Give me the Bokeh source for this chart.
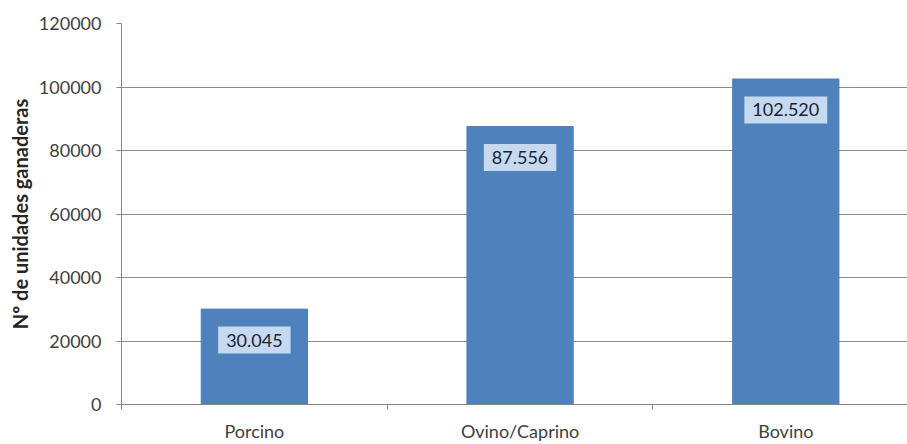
from bokeh.plotting import figure
from bokeh.models import FixedTicker, Range1d, Label
from bokeh.embed import file_html
from bokeh.resources import INLINE

categories = ["Porcino", "Ovino/Caprino", "Bovino"]
values = [30045, 87556, 102520]
y_ticks = [0, 20000, 40000, 60000, 80000, 100000, 120000]

FONT = "Lato"
xc = [i + 0.5 for i in range(len(categories))]

p = figure(width=907, height=444, output_backend="svg", toolbar_location=None,
           x_range=Range1d(0, 2.958), y_range=Range1d(0, 120000),
           min_border_left=121, min_border_right=0, min_border_top=23, min_border_bottom=39)
p.outline_line_color = None
p.background_fill_color = "white"

p.vbar(x=xc, top=values, width=0.4, color="#4F81BD")

for x, v in zip(xc, values):
    txt = f"{v:,}".replace(",", ".")
    p.add_layout(Label(x=x, y=v, y_offset=-31, text=txt, text_align="center",
                       text_baseline="middle", text_font=FONT, text_font_size="18px",
                       text_color="#1A2433", background_fill_color="#C6D9F1",
                       padding=(8, 7)))

xa = p.xaxis[0]
xa.ticker = FixedTicker(ticks=xc, minor_ticks=[0, 1, 2, 3])
xa.major_label_overrides = {x: c for x, c in zip(xc, categories)}
xa.major_tick_line_color = None
xa.major_tick_in = 0
xa.major_tick_out = 0
xa.minor_tick_in = 0
xa.minor_tick_out = 5
xa.minor_tick_line_color = "#868686"
xa.axis_line_color = "#868686"
xa.major_label_standoff = 10
xa.major_label_text_font = FONT
xa.major_label_text_font_size = "18px"
xa.major_label_text_color = "#404040"

ya = p.yaxis[0]
ya.ticker = FixedTicker(ticks=y_ticks, minor_ticks=[])
ya.major_label_overrides = {t: str(t) for t in y_ticks}
ya.major_tick_in = 0
ya.major_tick_out = 5
ya.major_tick_line_color = "#868686"
ya.axis_line_color = "#868686"
ya.major_label_standoff = 15
ya.major_label_text_font = FONT
ya.major_label_text_font_size = "18px"
ya.major_label_text_color = "#404040"
ya.axis_label = "Nº de unidades ganaderas"
ya.axis_label_text_font = FONT
ya.axis_label_text_font_style = "bold"
ya.axis_label_text_font_size = "20px"
ya.axis_label_text_color = "#262626"
ya.axis_label_standoff = 4

p.xgrid.grid_line_color = None
p.ygrid.grid_line_color = "#8C8C8C"
p.ygrid.grid_line_width = 1

open("out.html", "w").write(file_html(p, INLINE))
